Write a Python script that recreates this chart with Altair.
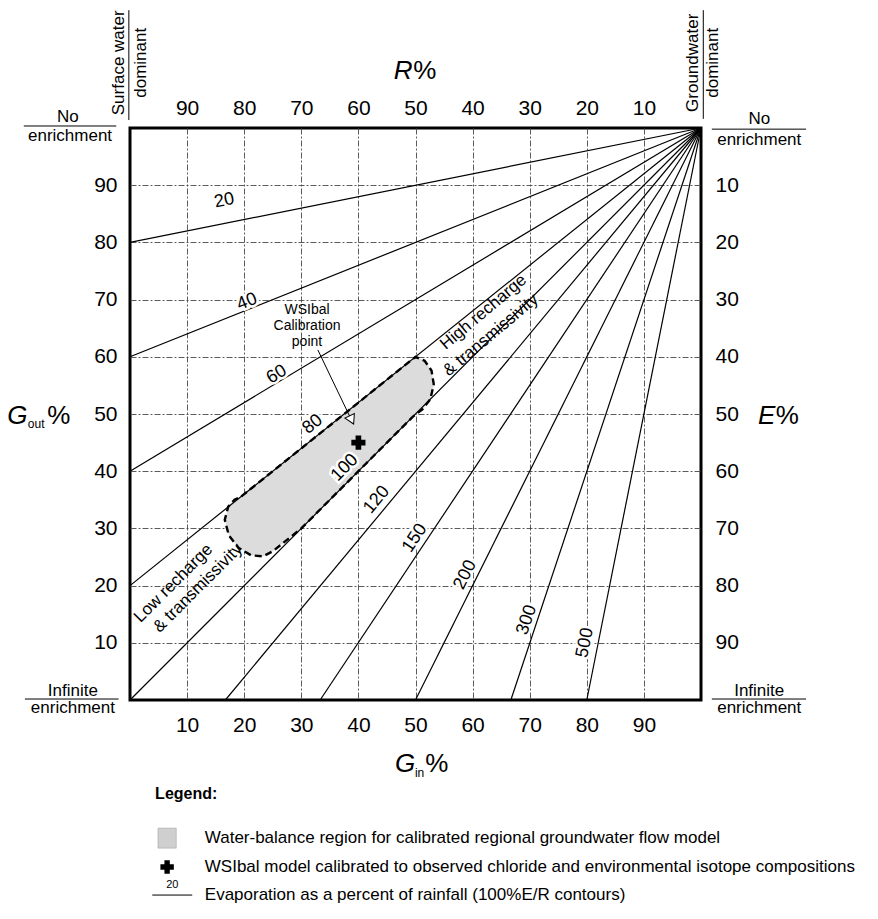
import math
import altair as alt
import pandas as pd

FONT = "Liberation Sans"

# ---------------- data ----------------
ticks = [10, 20, 30, 40, 50, 60, 70, 80, 90]

# E/R contours (100%E/R): all radiate from the G_in=100, G_out=100 corner
contour_pct = [20, 40, 60, 80, 100, 120, 150, 200, 300, 500]
contour_end_gin = [0, 0, 0, 0, 0, 16.7, 33.3, 50, 66.7, 80]
contour_end_gout = [80, 60, 40, 20, 0, 0, 0, 0, 0, 0]
apex_gin = 100
apex_gout = 100
label_gin = [16.5, 20.5, 25.7, 32, 37.6, 43.2, 49.9, 58.7, 69.5, 79.7]
label_gout = [87.3, 69.6, 56.9, 48.2, 40.6, 35, 28.3, 21.9, 14, 10]

# water-balance region outline
region_gin = [19.5, 25, 30, 35, 40, 45, 50, 51.6, 52.8, 53.2, 52.6, 51.2, 49.5,
              45, 40, 35, 30, 27, 25, 23.3, 21.2, 19.0, 17.3, 16.6, 17.2, 18.3, 19.5]
region_gout = [35.6, 40, 44, 48, 52, 56, 60, 59.3, 57.6, 55.2, 52.6, 50.8, 49.5,
               45, 40, 35, 30, 27.6, 26, 25.1, 25.3, 26.6, 28.8, 31.5, 33.8, 35.0, 35.6]

calib_gin = [40]
calib_gout = [45]
arrow_gin = [32.9, 39.0]
arrow_gout = [61.2, 48.5]
arrowhead_gin = [38.7]
arrowhead_gout = [49.2]

W, H = 571, 572
xs = alt.Scale(domain=[0, 100], nice=False, zero=False)
ys = alt.Scale(domain=[0, 100], nice=False, zero=False)

def XY(xf="x", yf="y"):
    return dict(x=alt.X(f"{xf}:Q", scale=xs, axis=None),
                y=alt.Y(f"{yf}:Q", scale=ys, axis=None))

grid_kw = dict(grid=True, gridColor="#4a4a4a", gridDash=[6, 2, 2, 2], gridWidth=0.9)
lab_kw = dict(labelFont=FONT, labelFontSize=21, labelColor="black", tickSize=0,
              domain=False, title=None, values=ticks, labelFlush=False)

ax_bottom = alt.Axis(orient="bottom", labelPadding=14, **grid_kw, **lab_kw)
ax_left = alt.Axis(orient="left", labelPadding=13, **grid_kw, **lab_kw)
ax_top = alt.Axis(orient="top", labelPadding=10, grid=False,
                  labelExpr="100 - datum.value", **lab_kw)
ax_right = alt.Axis(orient="right", labelPadding=14, grid=False,
                    labelExpr="100 - datum.value", **lab_kw)

tick_df = pd.DataFrame({"gin": ticks, "gout": ticks})
axes_bl = alt.Chart(tick_df).mark_point(opacity=0).encode(
    x=alt.X("gin:Q", scale=xs, axis=ax_bottom),
    y=alt.Y("gout:Q", scale=ys, axis=ax_left))
axes_tr = alt.Chart(tick_df).mark_point(opacity=0).encode(
    x=alt.X("gin:Q", scale=xs, axis=ax_top),
    y=alt.Y("gout:Q", scale=ys, axis=ax_right))

# region
region_df = pd.DataFrame({"x": region_gin, "y": region_gout,
                          "o": list(range(len(region_gin)))})
region = alt.Chart(region_df).mark_line(
    fill="#dcdcdc", stroke="black", strokeWidth=2.4, strokeDash=[7, 4]
).encode(order="o:Q", **XY())

# contour lines
rows = []
for p, x0, y0 in zip(contour_pct, contour_end_gin, contour_end_gout):
    rows.append({"pct": p, "o": 0, "x": x0, "y": y0})
    rows.append({"pct": p, "o": 1, "x": apex_gin, "y": apex_gout})
lines = alt.Chart(pd.DataFrame(rows)).mark_line(color="black", strokeWidth=1.2).encode(
    detail="pct:N", order="o:Q", **XY())

angles = []
for x0, y0 in zip(contour_end_gin, contour_end_gout):
    a = math.degrees(math.atan2((apex_gout - y0) * H / 100, (apex_gin - x0) * W / 100))
    angles.append((360 - a) % 360)
lab_df = pd.DataFrame({"x": label_gin, "y": label_gout,
                       "t": [str(p) for p in contour_pct], "ang": angles})
lab_halo = alt.Chart(lab_df).mark_text(font=FONT, fontSize=18, stroke="white",
                                       strokeWidth=5, color="white").encode(
    text="t:N", angle=alt.Angle("ang:Q", scale=None), **XY())
lab_txt = alt.Chart(lab_df).mark_text(font=FONT, fontSize=18, color="black").encode(
    text="t:N", angle=alt.Angle("ang:Q", scale=None), **XY())

# calibration arrow and point
arrow_df = pd.DataFrame({"x": arrow_gin, "y": arrow_gout, "o": [0, 1]})
arrow = alt.Chart(arrow_df).mark_line(color="black", strokeWidth=1).encode(order="o:Q", **XY())
head = alt.Chart(pd.DataFrame({"x": arrowhead_gin, "y": arrowhead_gout})).mark_point(
    shape="triangle", size=110, filled=True, fill="white", stroke="black",
    strokeWidth=1, angle=154, opacity=1).encode(**XY())
cross = alt.Chart(pd.DataFrame({"x": calib_gin, "y": calib_gout})).mark_point(
    shape="cross", size=200, filled=True, color="black", opacity=1).encode(**XY())

def texts(xv, yv, tv, **mk):
    df = pd.DataFrame({"x": xv, "y": yv, "t": tv})
    base = dict(font=FONT, color="black")
    base.update(mk)
    return alt.Chart(df).mark_text(**base).encode(text="t:N", **XY())

layers = [axes_bl, axes_tr, region, lines, arrow, head, lab_halo, lab_txt, cross]

# annotations inside the plot
layers.append(texts([31, 31, 31], [68.2, 65.4, 62.6], ["WSIbal", "Calibration", "point"],
                    fontSize=14))
layers.append(texts([7.6, 11.9], [20.4, 19.6], ["Low recharge", "& transmissivity"],
                    fontSize=17, angle=315))
layers.append(texts([61.9, 63.2], [67.8, 63.8], ["High recharge", "& transmissivity"],
                    fontSize=17, angle=320))

# axis titles (italic letter, subscript, %)
layers.append(texts([46.2, 110.0, -21.5, 46.4], [108.6, 48.3, 48.3, -12.6],
                    ["R", "E", "G", "G"], fontSize=26, fontStyle="italic",
                    align="left", baseline="alphabetic"))
layers.append(texts([-17.9, 49.9], [47.5, -13.4], ["out", "in"], fontSize=12,
                    align="left", baseline="alphabetic"))
layers.append(texts([49.6, 113.1, -14.5, 51.7], [108.6, 48.3, 48.3, -12.6],
                    ["%", "%", "%", "%"], fontSize=26, align="left", baseline="alphabetic"))

# corner notes
layers.append(texts([-1.84, 1.93, 98.6, 102.1], [111.4, 111.4, 111.4, 111.4],
                    ["Surface water", "dominant", "Groundwater", "dominant"],
                    fontSize=17, angle=270))
layers.append(texts([-10.9, -10.5, 110.2, 110.2, -10.0, -10.0, 110.2, 110.2],
                    [101.9, 98.6, 101.6, 97.9, 1.6, -1.4, 1.6, -1.4],
                    ["No", "enrichment", "No", "enrichment",
                     "Infinite", "enrichment", "Infinite", "enrichment"], fontSize=17))
bars_h = pd.DataFrame({"x": [-18.6, 101.9, -18.4, 101.9], "x2": [-2.4, 118.4, -2.0, 118.4],
                       "y": [100.35, 99.8, 0.17, 0.17]})
layers.append(alt.Chart(bars_h).mark_rule(color="black", strokeWidth=1).encode(
    x=alt.X("x:Q", scale=xs, axis=None), x2="x2:Q", y=alt.Y("y:Q", scale=ys, axis=None)))
bars_v = pd.DataFrame({"x": [-0.2, 100.4], "y": [101.4, 101.6], "y2": [120.6, 120.6]})
layers.append(alt.Chart(bars_v).mark_rule(color="black", strokeWidth=1).encode(
    x=alt.X("x:Q", scale=xs, axis=None), y=alt.Y("y:Q", scale=ys, axis=None), y2="y2:Q"))

# legend
layers.append(texts([4.4], [-16.4], ["Legend:"], fontSize=16, fontWeight="bold", align="left"))
sw = pd.DataFrame({"x": [4.9], "x2": [8.1], "y": [-22.4], "y2": [-25.9]})
layers.append(alt.Chart(sw).mark_rect(fill="#cfcfcf", stroke="#999999", strokeWidth=0.5).encode(
    x=alt.X("x:Q", scale=xs, axis=None), x2="x2:Q",
    y=alt.Y("y:Q", scale=ys, axis=None), y2="y2:Q"))
layers.append(alt.Chart(pd.DataFrame({"x": [6.5], "y": [-29.2]})).mark_point(
    shape="cross", size=180, filled=True, color="black", opacity=1).encode(**XY()))
lg_line = pd.DataFrame({"x": [3.9], "x2": [10.9], "y": [-34.1]})
layers.append(alt.Chart(lg_line).mark_rule(color="black", strokeWidth=1).encode(
    x=alt.X("x:Q", scale=xs, axis=None), x2="x2:Q", y=alt.Y("y:Q", scale=ys, axis=None)))
layers.append(texts([7.4], [-32.4], ["20"], fontSize=11))
layers.append(texts([13.1, 13.1, 13.1], [-24.1, -29.2, -34.1],
                    ["Water-balance region for calibrated regional groundwater flow model",
                     "WSIbal model calibrated to observed chloride and environmental isotope compositions",
                     "Evaporation as a percent of rainfall (100%E/R contours)"],
                    fontSize=17, align="left"))

chart = alt.layer(*layers).resolve_axis(x="independent", y="independent").properties(
    width=W, height=H,
    padding={"left": 122, "top": 120, "right": 169, "bottom": 211},
    autosize=alt.AutoSizeParams(type="none"),
).configure_view(stroke="black", strokeWidth=3)

chart.save("out.html", embed_options={"renderer": "svg", "actions": False})
